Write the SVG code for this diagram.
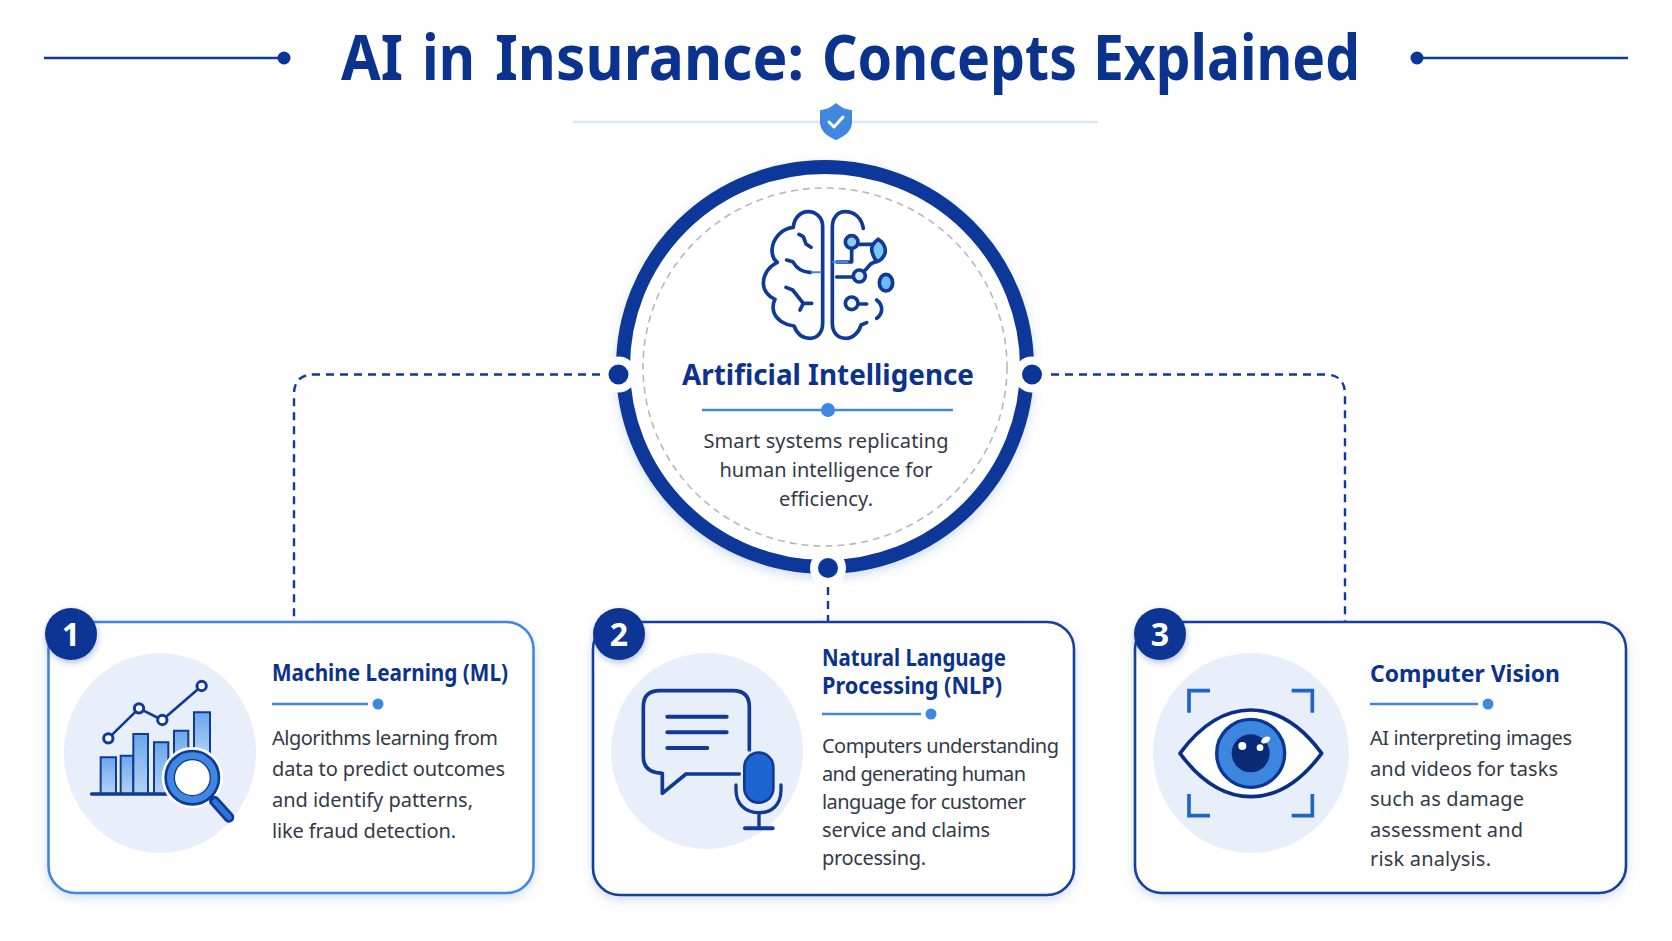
<svg xmlns="http://www.w3.org/2000/svg" width="1672" height="941" viewBox="0 0 1672 941">
<style>
text{font-family:"Noto Sans","Open Sans","Liberation Sans",sans-serif}
.t{font-weight:700;fill:#0b328c}
.ct{font-size:23px}
.b{font-size:20px;fill:#333a47}
.c{text-anchor:middle}
.card{fill:#fff;stroke-width:2.6;filter:url(#sh)}
.badge{fill:#0a3696;filter:url(#bs)}
.num{font-size:32px;font-weight:700;fill:#fff;text-anchor:middle}
.disc{fill:#e8effa}
.rule{stroke:#3f87e0;stroke-width:2.4;fill:none}
.dot{fill:#3f87e0}
.d{fill:none;stroke:#0f3a96;stroke-linecap:round;stroke-linejoin:round}
.conn{fill:none;stroke:#0f3a96;stroke-width:2.4;stroke-dasharray:8 6}
</style>
<defs>
<filter id="sh" x="-10%" y="-10%" width="120%" height="125%"><feDropShadow dx="0" dy="4" stdDeviation="5" flood-color="#3b6fc4" flood-opacity=".2"/></filter>
<filter id="bs" x="-30%" y="-30%" width="160%" height="160%"><feDropShadow dx="1" dy="3" stdDeviation="3" flood-color="#0a2a78" flood-opacity=".28"/></filter>
<filter id="rs" x="-10%" y="-10%" width="120%" height="120%"><feDropShadow dx="0" dy="4" stdDeviation="5" flood-color="#3b6fc4" flood-opacity=".22"/></filter>
<linearGradient id="bar" x1="0" y1="0" x2="0" y2="1"><stop offset="0" stop-color="#6aa7ec"/><stop offset="1" stop-color="#b4d2f5"/></linearGradient>
</defs>
<rect width="1672" height="941" fill="#fefefe"/>

<g id="header">
<path d="M44 58H278" stroke="#0f3a96" stroke-width="2.4"/><circle cx="284" cy="58" r="6.5" fill="#0a3696"/>
<circle cx="1417" cy="58" r="6.5" fill="#0a3696"/><path d="M1423 58H1628" stroke="#0f3a96" stroke-width="2.4"/>
<text class="t" y="80" font-size="62"><tspan x="341" textLength="62" lengthAdjust="spacingAndGlyphs">AI</tspan> <tspan x="422" textLength="53" lengthAdjust="spacingAndGlyphs">in</tspan> <tspan x="495" textLength="309" lengthAdjust="spacingAndGlyphs">Insurance:</tspan> <tspan x="822" textLength="255" lengthAdjust="spacingAndGlyphs">Concepts</tspan> <tspan x="1093" textLength="267" lengthAdjust="spacingAndGlyphs">Explained</tspan></text>
<path d="M573 122H1098" stroke="#dbe6f7" stroke-width="2.4"/>
<path d="M836 103C842 108 847 110 852 110V122C852 131 845 136 836 140C827 136 820 131 820 122V110C825 110 830 108 836 103Z" fill="#3f87e0"/>
<path d="M829 122L834 127L843 117" fill="none" stroke="#fff" stroke-width="3" stroke-linecap="round" stroke-linejoin="round"/>
</g>

<g id="connectors">
<path class="conn" d="M600 374.5H314Q294 374.5 294 394.5V622"/>
<path class="conn" d="M1051 374.5H1325Q1345 374.5 1345 394.5V622"/>
<path class="conn" d="M828 587V622"/>
</g>

<g id="node-ai">
<ellipse cx="825" cy="367" rx="202" ry="200" fill="#fff" stroke="#0b389a" stroke-width="14" filter="url(#rs)"/>
<ellipse cx="825" cy="367" rx="182" ry="179" fill="none" stroke="#b5b8bf" stroke-width="1.6" stroke-dasharray="7 5"/>
<circle cx="618.5" cy="374.5" r="18" fill="#fff"/><circle cx="618.5" cy="374.5" r="10" fill="#0a3696"/>
<circle cx="1032" cy="374.5" r="18" fill="#fff"/><circle cx="1032" cy="374.5" r="10" fill="#0a3696"/>
<circle cx="828" cy="568" r="18" fill="#fff"/><circle cx="828" cy="568" r="10" fill="#0a3696"/>
<g transform="translate(600 90) scale(.33333)">
<g class="d" stroke-width="11">
<path d="M668 700V410C668 380 645 365 625 365C600 365 582 385 580 412C545 415 518 445 516 480C516 495 522 510 532 517C505 530 490 555 490 580C490 600 505 620 525 628C518 640 518 655 522 668C530 690 555 705 582 708C590 730 605 745 630 745C650 745 668 730 668 700Z"/>
<path d="M790 415C785 385 765 365 735 365C712 365 697 385 697 410V700C697 730 715 745 738 745C760 745 778 725 783 705L800 698"/>
<path d="M597 433L610 440L618 462L633 472M560 510L578 515C590 535 605 548 632 547M558 592L578 600L610 640H635M610 640L600 660"/>
<path d="M830 630C850 645 850 670 830 685"/>
<path d="M775 463H815M755 478V516H710M710 561H762M775 642H800M792 545L812 522L832 512"/>
</g>
<path d="M632 547H665M697 516H745" fill="none" stroke="#3f87e0" stroke-width="6"/>
<g stroke="#0f3a96" stroke-width="11" fill="#8ec9f5">
<circle cx="755" cy="456" r="19"/><path d="M835 448C852 458 858 475 855 490C850 505 840 512 830 515C820 500 815 490 815 478C815 465 825 455 835 448Z" fill="#7cc5f7"/><circle cx="778" cy="558" r="18" fill="#cfe6fb"/><ellipse cx="858" cy="578" rx="20" ry="25" fill="#6bbaf6"/><circle cx="755" cy="640" r="19" fill="#f2f8fe"/>
</g>
</g>
<text class="t c" x="828" y="385" font-size="29" textLength="292" lengthAdjust="spacingAndGlyphs">Artificial Intelligence</text>
<path class="rule" d="M702 410H953"/><circle cx="828" cy="410" r="7" class="dot"/>
<text class="b c" x="826" y="448" textLength="245">Smart systems replicating</text>
<text class="b c" x="826" y="477" textLength="213">human intelligence for</text>
<text class="b c" x="826" y="506" textLength="94">efficiency.</text>
</g>

<g id="node-ml">
<rect class="card" x="48.5" y="622" width="485" height="271" rx="27" stroke="#3f87e0"/>
<ellipse class="disc" cx="160" cy="753" rx="96" ry="100"/>
<g transform="translate(30 600) scale(.33333)">
<g fill="url(#bar)" stroke="#0f3a96" stroke-width="6">
<path d="M212 580V472H258V580"/><path d="M272 580V467H310V580"/><path d="M310 580V402H354V580"/><path d="M372 580V427H415V580"/><path d="M432 520V392H475V520"/><path d="M492 470V337H540V470"/>
</g>
<path class="d" stroke-width="11" d="M185 582H420"/>
<path class="d" stroke-width="8" d="M235 415L327 325L397 360L515 258"/>
<g fill="#fff" stroke="#0f3a96" stroke-width="9"><circle cx="235" cy="415" r="14"/><circle cx="327" cy="325" r="14"/><circle cx="397" cy="360" r="14"/><circle cx="515" cy="258" r="14"/></g>
<circle cx="487" cy="533" r="92" fill="#fff"/>
<path d="M553 603L597 652" stroke="#0f3a96" stroke-width="32" stroke-linecap="round"/>
<path d="M555 605L597 652" stroke="#2d74d8" stroke-width="16" stroke-linecap="round"/>
<circle cx="487" cy="533" r="66" fill="#fff" stroke="#3f87e0" stroke-width="24"/>
<circle cx="487" cy="533" r="80" fill="none" stroke="#0f3a96" stroke-width="8"/>
<circle cx="487" cy="533" r="54" fill="none" stroke="#0f3a96" stroke-width="4"/>
</g>
<circle class="badge" cx="71" cy="634" r="26"/><text class="num" x="71" y="646">1</text>
<text class="t ct" x="272" y="681" textLength="236" lengthAdjust="spacingAndGlyphs">Machine Learning (ML)</text>
<path class="rule" d="M272 704H368"/><circle cx="378" cy="704" r="5.5" class="dot"/>
<text class="b" x="272" y="745" textLength="226">Algorithms learning from</text>
<text class="b" x="272" y="776" textLength="233">data to predict outcomes</text>
<text class="b" x="272" y="807" textLength="201">and identify patterns,</text>
<text class="b" x="272" y="838" textLength="184">like fraud detection.</text>
</g>

<g id="node-nlp">
<rect class="card" x="593" y="622" width="481" height="273" rx="27" stroke="#123f9f"/>
<ellipse class="disc" cx="707" cy="751" rx="96" ry="98"/>
<g transform="translate(580 600) scale(.33333)">
<path class="d" stroke-width="11" d="M508 450V320Q508 272 458 272H240Q190 272 190 320V470Q190 518 247 520V580L318 522H478"/>
<path class="d" stroke-width="12" d="M262 350H440M262 397H440M262 444H382"/>
<rect x="493" y="458" width="87" height="150" rx="43" fill="#1e66cf" stroke="#0f3a96" stroke-width="8"/>
<path class="d" stroke-width="10" d="M468 555V570C468 615 500 638 537 638C575 638 603 615 603 570V555M537 638V685"/>
<path class="d" stroke-width="12" d="M495 685H578"/>
</g>
<circle class="badge" cx="619" cy="634" r="26"/><text class="num" x="619" y="646">2</text>
<text class="t ct" x="822" y="666" textLength="184" lengthAdjust="spacingAndGlyphs">Natural Language</text>
<text class="t ct" x="822" y="694" textLength="180" lengthAdjust="spacingAndGlyphs">Processing (NLP)</text>
<path class="rule" d="M822 714H921"/><circle cx="931" cy="714" r="5.5" class="dot"/>
<text class="b" x="822" y="753" textLength="237">Computers understanding</text>
<text class="b" x="822" y="781" textLength="204">and generating human</text>
<text class="b" x="822" y="809" textLength="204">language for customer</text>
<text class="b" x="822" y="837" textLength="168">service and claims</text>
<text class="b" x="822" y="865" textLength="104">processing.</text>
</g>

<g id="node-cv">
<rect class="card" x="1135" y="622" width="491" height="271" rx="27" stroke="#123f9f"/>
<ellipse class="disc" cx="1251" cy="753" rx="98" ry="100"/>
<g transform="translate(1120 600) scale(.33333)">
<path fill="none" stroke="#1a66c9" stroke-width="11" d="M207 338V272H270M515 272H577V338M207 582V647H270M515 647H577V582"/>
<path fill="#fff" stroke="#0a2f87" stroke-width="11" stroke-linejoin="round" d="M180 460C250 365 320 330 392 330C465 330 535 365 605 460C535 555 465 590 392 590C320 590 250 555 180 460Z"/>
<circle cx="392" cy="460" r="102" fill="#3d86e0" stroke="#0a3696" stroke-width="10"/>
<circle cx="392" cy="460" r="57" fill="#0a2a78"/>
<circle cx="367" cy="438" r="12" fill="#fff"/><circle cx="420" cy="443" r="10" fill="#fff"/>
<ellipse cx="437" cy="420" rx="15" ry="9" fill="#fff" transform="rotate(-30 437 420)"/>
</g>
<circle class="badge" cx="1160" cy="634" r="26"/><text class="num" x="1160" y="646">3</text>
<text class="t ct" x="1370" y="682" textLength="190" lengthAdjust="spacingAndGlyphs">Computer Vision</text>
<path class="rule" d="M1370 704H1478"/><circle cx="1488" cy="704" r="5.5" class="dot"/>
<text class="b" x="1370" y="745" textLength="202">AI interpreting images</text>
<text class="b" x="1370" y="776" textLength="188">and videos for tasks</text>
<text class="b" x="1370" y="806" textLength="154">such as damage</text>
<text class="b" x="1370" y="837" textLength="153">assessment and</text>
<text class="b" x="1370" y="866" textLength="121">risk analysis.</text>
</g>
</svg>
